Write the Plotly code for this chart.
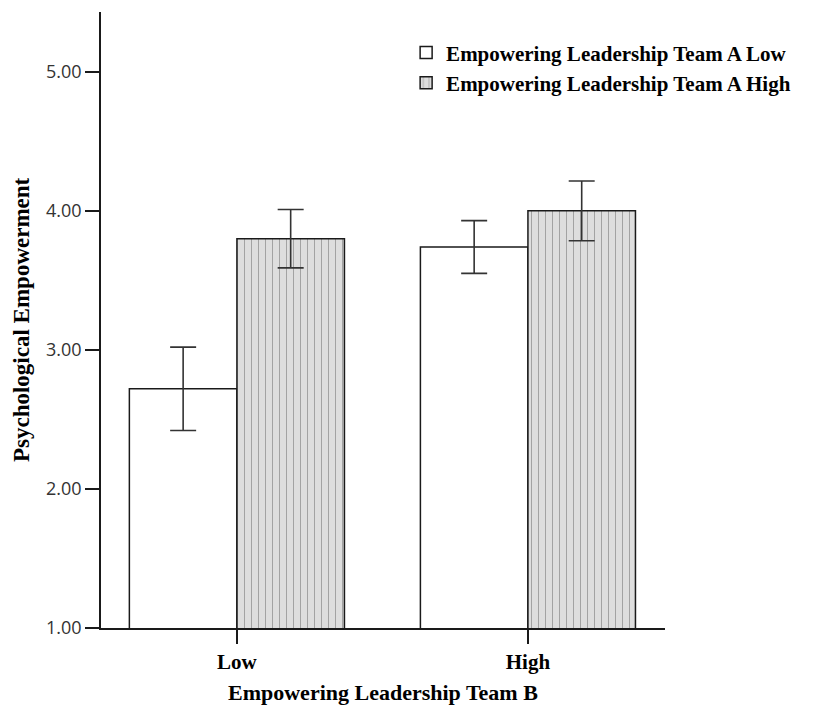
import plotly.graph_objects as go

# ---- data ----
categories = ["Low", "High"]                      # Empowering Leadership Team B
series_names = ["Empowering Leadership Team A Low",
                "Empowering Leadership Team A High"]
low_a_means = [2.72, 3.74]
low_a_err = [0.30, 0.19]
high_a_means = [3.80, 4.00]
high_a_err = [0.21, 0.215]
y_tickvals = [1, 2, 3, 4, 5]
y_ticktext = ["1.00", "2.00", "3.00", "4.00", "5.00"]

SERIF = "Liberation Serif, Times New Roman, serif"
SANS = "Open Sans, Noto Sans, sans-serif"

fig = go.Figure()
fig.add_trace(go.Bar(
    x=categories, y=low_a_means, name=series_names[0],
    marker=dict(color="white", line=dict(color="#1a1a1a", width=1.5)),
    error_y=dict(type="data", array=low_a_err, visible=True,
                 color="#333333", thickness=1.6, width=13),
))
fig.add_trace(go.Bar(
    x=categories, y=high_a_means, name=series_names[1],
    marker=dict(color="#dedede", line=dict(color="#1a1a1a", width=1.5),
                pattern=dict(shape="|", fgcolor="#808080", bgcolor="#dedede",
                             size=7, solidity=0.12, fgopacity=0.75)),
    error_y=dict(type="data", array=high_a_err, visible=True,
                 color="#333333", thickness=1.6, width=13),
))

fig.update_layout(
    width=806, height=698,
    margin=dict(l=93, r=149, t=4, b=78, autoexpand=False),
    paper_bgcolor="white", plot_bgcolor="white",
    barmode="group", bargap=0.261, bargroupgap=0,
    showlegend=True,
    legend=dict(x=0.541, y=0.967, xanchor="left", yanchor="top",
                bgcolor="rgba(0,0,0,0)",
                font=dict(family=SERIF, size=21, color="black", weight="bold"),
                tracegroupgap=0),
    font=dict(family=SERIF, color="black"),
)
fig.update_xaxes(
    range=[-0.467, 1.471], showline=True, linecolor="#1a1a1a", linewidth=1.5,
    ticks="outside", ticklen=14, tickwidth=1.5, tickcolor="#1a1a1a",
    showgrid=False, zeroline=False,
    tickfont=dict(family=SERIF, size=21, color="black", weight="bold"),
)
fig.update_yaxes(
    range=[1, 5.43], showline=True, linecolor="#1a1a1a", linewidth=1.5,
    ticks="outside", ticklen=14, tickwidth=1.5, tickcolor="#1a1a1a",
    showgrid=False, zeroline=False,
    tickvals=y_tickvals, ticktext=y_ticktext,
    tickfont=dict(family=SANS, size=18, color="#333333"),
)
fig.add_annotation(text="<b>Psychological Empowerment</b>", xref="paper", yref="paper",
                   x=-0.1418, y=0.5, xanchor="center", yanchor="middle",
                   textangle=-90, showarrow=False,
                   font=dict(family=SERIF, size=23, color="black"))
fig.add_annotation(text="<b>Empowering Leadership Team B</b>", xref="paper", yref="paper",
                   x=0.5, y=-0.1055, xanchor="center", yanchor="middle",
                   showarrow=False,
                   font=dict(family=SERIF, size=22, color="black"))

fig.write_html("out.html")
